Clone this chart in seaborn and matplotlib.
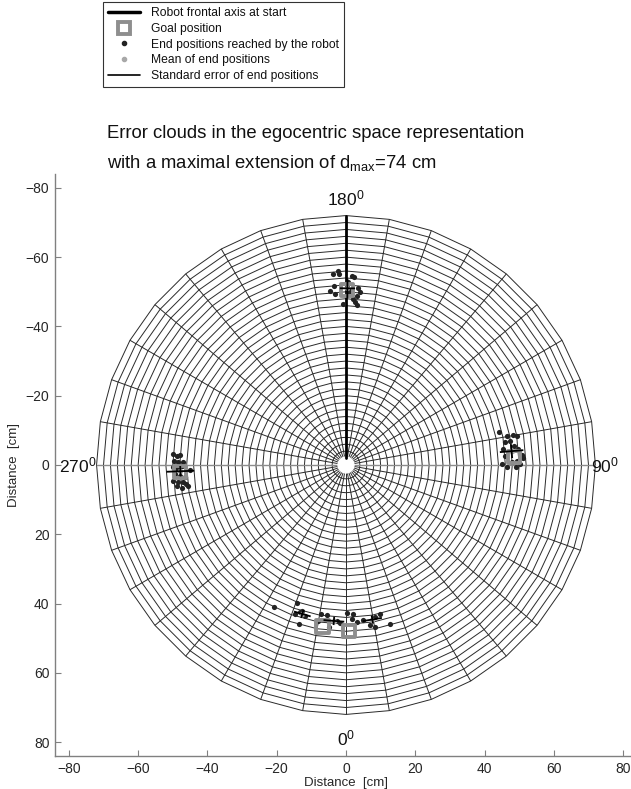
import numpy as np
import pandas as pd
import matplotlib.pyplot as plt
import seaborn as sns
from matplotlib.collections import LineCollection
from matplotlib.lines import Line2D

# end positions reached by the robot (cm), one block per target direction
top_x = [-3.7, -2.2, -1.9, 1.6, 2.3, -4.6, -3.2, -3.5, 0.7, 0.2, 3.6, 4.0, 3.1, 1.9, 2.6, -0.8, 3.3, 0.2, 1.2]
top_y = [-55.1, -56.1, -55.1, -54.6, -54.2, -50.3, -49.4, -51.6, -52.7, -51.9, -51.0, -49.8, -48.9, -47.9, -47.0, -46.5, -46.2, -49.4, -50.3]
right_x = [44.2, 46.4, 48.1, 49.4, 45.9, 47.3, 48.5, 49.7, 50.7, 51.2, 45.2, 45.9, 49.3, 50.2, 44.9, 46.4, 47.8, 49.1]
right_y = [-9.4, -8.3, -8.7, -8.3, -6.5, -7.0, -5.6, -4.6, -2.9, -1.9, -4.6, -2.7, -1.2, -0.3, -0.3, 0.7, -0.8, 0.7]
left_x = [-50.0, -48.9, -47.9, -49.6, -48.4, -47.0, -49.8, -48.7, -47.4, -45.0, -49.4, -47.9, -46.5, -49.8, -48.4, -47.0, -48.9, -47.4, -45.5, -46.2]
left_y = [-3.2, -2.7, -2.9, -1.2, -0.8, -1.0, 0.7, 1.2, 0.2, 1.4, 2.6, 3.1, 3.6, 4.5, 5.0, 4.8, 6.2, 6.5, 6.2, 5.5]
bottom_x = [-20.7, -14.1, -14.7, -13.2, -11.8, -13.5, -12.6, -7.1, -5.4, -4.8, -3.1, -1.6, 0.4, 2.1, 3.3, 5.0, 8.5, 9.7, 8.5, 12.6, 6.8, -8.0, -2.7, 1.6]
bottom_y = [41.1, 39.8, 43.0, 42.5, 43.5, 45.9, 42.2, 43.0, 43.3, 46.8, 44.9, 45.6, 42.8, 43.0, 45.4, 44.6, 44.0, 43.0, 46.8, 45.9, 46.2, 44.9, 44.9, 44.4]

# goal positions (cm)
goal_x = [0.3, 48.5, -47.9, -6.8, 0.9]
goal_y = [-50.5, -2.3, 2.0, 46.6, 48.0]

# mean of end positions and standard error (tangential, radial) in cm
mean_x = [0.4, 47.8, -47.8, -12.6, -3.5, 7.6]
mean_y = [-51.0, -4.0, 1.8, 43.0, 45.0, 44.6]
se_tan = [2.2, 2.0, 1.5, 2.5, 3.0, 2.8]
se_rad = [2.8, 3.4, 4.0, 1.2, 1.2, 1.2]

angle_labels = ['0', '90', '180', '270']
angle_deg = [0, 90, 180, 270]
label_r = [79, 74.7, 76.8, 77.5]

d_max = 72
ring_step = 2
spoke_step = 10

sns.set_style('ticks')
plt.rcParams['font.family'] = ['Liberation Sans', 'DejaVu Sans']
plt.rcParams['mathtext.fontset'] = 'custom'
plt.rcParams['mathtext.rm'] = 'Liberation Sans'
plt.rcParams['mathtext.it'] = 'Liberation Sans:italic'
plt.rcParams['text.color'] = '#111111'

fig = plt.figure(figsize=(6.31, 7.89), dpi=100)
ax = fig.add_axes([55 / 631, 33 / 789, 582 / 631, 582 / 789])

# polar grid: rings as polygons, spokes every 10 degrees
th = np.deg2rad(np.arange(0, 361, spoke_step))
radii = np.arange(ring_step, d_max + 1, ring_step)
rings = [np.column_stack([r * np.sin(th), r * np.cos(th)]) for r in radii]
ax.add_collection(LineCollection(rings, colors='#2a2a2a', linewidths=0.7, zorder=1))
spokes = []
for a in np.arange(0, 360, spoke_step):
    if a in (90, 270, 180):
        continue
    t = np.deg2rad(a)
    spokes.append([(ring_step * np.sin(t), ring_step * np.cos(t)), (d_max * np.sin(t), d_max * np.cos(t))])
ax.add_collection(LineCollection(spokes, colors='#2a2a2a', linewidths=0.7, zorder=1))
ax.plot([-d_max, -ring_step], [0, 0], color='#8c8c8c', lw=1.0, zorder=1)
ax.plot([ring_step, d_max], [0, 0], color='#8c8c8c', lw=1.0, zorder=1)
ax.add_patch(plt.Circle((0, 0), ring_step + 0.3, color='white', zorder=2))
# robot frontal axis
ax.plot([0, 0], [-ring_step, -d_max], color='black', lw=2.0, zorder=3)

ends = pd.DataFrame({
    'x': top_x + right_x + left_x + bottom_x,
    'y': top_y + right_y + left_y + bottom_y,
})
sns.scatterplot(data=ends, x='x', y='y', ax=ax, color='#222222', s=14, linewidth=0, zorder=4, legend=False)
sns.scatterplot(x=goal_x, y=goal_y, ax=ax, marker='s', s=80, facecolor='none',
                edgecolor='#8e8e8e', linewidth=2.8, zorder=5, legend=False)
sns.scatterplot(x=mean_x, y=mean_y, ax=ax, color='#a8a8a8', s=16, linewidth=0, zorder=6, legend=False)

# standard error bars, tangential and radial
segs = []
for mx, my, et, er in zip(mean_x, mean_y, se_tan, se_rad):
    t = np.arctan2(mx, my)
    tx, ty = np.cos(t), -np.sin(t)
    rx, ry = np.sin(t), np.cos(t)
    segs.append([(mx - et * tx, my - et * ty), (mx + et * tx, my + et * ty)])
    segs.append([(mx - er * rx, my - er * ry), (mx + er * rx, my + er * ry)])
ax.add_collection(LineCollection(segs, colors='black', linewidths=1.3, zorder=7))

for lab, a, rr in zip(angle_labels, angle_deg, label_r):
    t = np.deg2rad(a)
    ax.text(rr * np.sin(t), rr * np.cos(t), lab + r'$^{0}$',
            ha='center', va='center', fontsize=12.5, zorder=8)

ticks = [-80, -60, -40, -20, 0, 20, 40, 60, 80]
tick_labels = ['\u221280', '\u221260', '\u221240', '\u221220', '0', '20', '40', '60', '80']
ax.set_xlim(-84, 84)
ax.set_ylim(84, -84)
ax.set_xticks(ticks)
ax.set_yticks(ticks)
ax.set_xticklabels(tick_labels)
ax.set_yticklabels(tick_labels)
ax.tick_params(direction='in', length=4, width=0.8, color='#808080', labelsize=10, pad=4)
for s in ['top', 'right']:
    ax.spines[s].set_visible(False)
for s in ['left', 'bottom']:
    ax.spines[s].set_color('#808080')
    ax.spines[s].set_linewidth(1.0)
ax.set_xlabel('Distance  [cm]', fontsize=9.5, labelpad=1)
ax.set_ylabel('Distance  [cm]', fontsize=9.5, labelpad=4)

fig.text(107 / 631, 1 - 133 / 789, 'Error clouds in the egocentric space representation',
         ha='left', va='center', fontsize=13.3)
fig.text(107 / 631, 1 - 163 / 789, r'with a maximal extension of d$_{\mathrm{max}}$=74 cm',
         ha='left', va='center', fontsize=13.3)

handles = [
    Line2D([], [], color='black', lw=2.5),
    Line2D([], [], marker='s', ls='none', mfc='white', mec='#8e8e8e', mew=2.8, ms=8),
    Line2D([], [], marker='o', ls='none', color='#222222', ms=3),
    Line2D([], [], marker='o', ls='none', color='#a8a8a8', ms=3),
    Line2D([], [], color='black', lw=1.2),
]
labels = ['Robot frontal axis at start', 'Goal position', 'End positions reached by the robot',
          'Mean of end positions', 'Standard error of end positions']
leg = fig.legend(handles, labels, loc='upper left', bbox_to_anchor=(103 / 631, 1 - 2 / 789),
                 borderaxespad=0, frameon=True, fancybox=False, edgecolor='black', fontsize=8.7,
                 handlelength=2.6, handletextpad=0.9, borderpad=0.45, labelspacing=0.3,
                 numpoints=1)
leg.get_frame().set_linewidth(0.8)

fig.savefig('out.png', dpi=100)
